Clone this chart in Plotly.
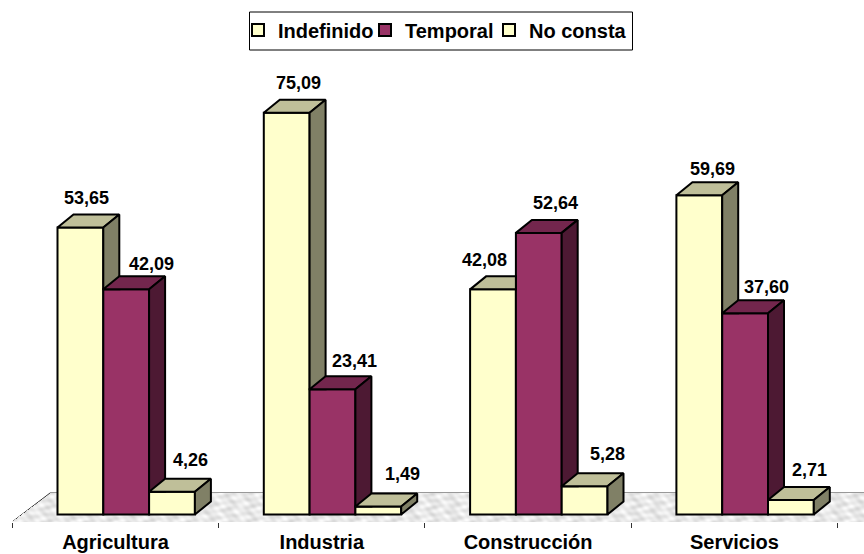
import base64
import math
import struct
import zlib

import plotly.graph_objects as go

categories = ["Agricultura", "Industria", "Construcción", "Servicios"]
indefinido = [53.65, 75.09, 42.08, 59.69]
temporal = [42.09, 23.41, 52.64, 37.60]
no_consta = [4.26, 1.49, 5.28, 2.71]
series_names = ["Indefinido", "Temporal", "No consta"]
series_values = [indefinido, temporal, no_consta]

# styles
FRONT = ["#FFFFCC", "#993366", "#FFFFCC"]
TOP = ["#BFBF99", "#73264D", "#BFBF99"]
SIDE = ["#808066", "#4D1933", "#808066"]
FONT = "Liberation Sans"

# layout scale (pixels of the 864x554 page)
W, H = 864, 554
PLOT_BOTTOM = 522
PX_PER_UNIT = 5.35
BASE_PX = 514.5
CAT_PX = 206.3
CAT0_PX = 115.5
GROUP_SHIFT = 10.7 / CAT_PX
BAR_W = 45.8 / CAT_PX
DX = 16 / CAT_PX
DY = 13 / PX_PER_UNIT
LEGEND_X_PX = [238, 365, 489]
LEGEND_IDS = ["legend", "legend2", "legend3"]


def px_x(p):
    return (p - CAT0_PX) / CAT_PX


def px_y(p):
    return (BASE_PX - p) / PX_PER_UNIT


def bar_left(cat, k):
    return cat + GROUP_SHIFT + (k - 1.5) * BAR_W


def floor_texture(w, h, slant):
    """Marble-like grey wall-paper for the floor, transparent outside the parallelogram."""
    rows = []
    for y in range(h):
        row = bytearray([0])
        inset = slant * (h - 1 - y) / max(h - 1, 1)
        for x in range(w):
            g = (233 + 9 * math.sin(0.31 * x + 1.4 * math.sin(0.45 * y))
                 + 6 * math.sin(0.13 * x + 0.9 * y)
                 + 5 * math.sin(0.73 * x - 0.6 * y))
            g = int(max(205, min(252, g)))
            row += bytes([g, g, g, 255 if x >= inset else 0])
        rows.append(bytes(row))

    def chunk(tag, data):
        return (struct.pack(">I", len(data)) + tag + data
                + struct.pack(">I", zlib.crc32(tag + data) & 0xFFFFFFFF))

    png = (b"\x89PNG\r\n\x1a\n"
           + chunk(b"IHDR", struct.pack(">IIBBBBB", w, h, 8, 6, 0, 0, 0))
           + chunk(b"IDAT", zlib.compress(b"".join(rows)))
           + chunk(b"IEND", b""))
    return "data:image/png;base64," + base64.b64encode(png).decode()


fig = go.Figure()

for k, name in enumerate(series_names):
    fig.add_trace(go.Bar(
        name=name,
        legend=LEGEND_IDS[k],
        showlegend=True,
        x=[bar_left(c, k) + BAR_W / 2 for c in range(len(categories))],
        y=series_values[k],
        width=BAR_W,
        marker=dict(color=FRONT[k], line=dict(color="#000000", width=2)),
        hoverinfo="skip",
    ))

for k in range(len(series_names)):
    top_x, top_y, side_x, side_y = [], [], [], []
    for c in range(len(categories)):
        v = series_values[k][c]
        l = bar_left(c, k)
        r = l + BAR_W
        nxt = series_values[k + 1][c] if k + 1 < len(series_values) else None
        # top face, hidden behind a taller neighbour
        back_r = r if (nxt is not None and nxt > v) else r + DX
        top_x += [l, l + DX, back_r, r, l, None]
        top_y += [v, v + DY, v + DY, v, v, None]
        # side face
        if nxt is None:
            side_x += [r, r + DX, r + DX, r, r, None]
            side_y += [v, v + DY, DY, 0, v, None]
        elif nxt < v:
            side_x += [r, r + DX, r + DX, r, r, None]
            side_y += [v, v + DY, nxt, nxt, v, None]
    for xs, ys, col in ((top_x, top_y, TOP[k]), (side_x, side_y, SIDE[k])):
        fig.add_trace(go.Scatter(
            x=xs, y=ys, mode="lines", fill="toself", fillcolor=col,
            line=dict(color="#000000", width=2),
            showlegend=False, hoverinfo="skip",
        ))

# data labels: hand-placed in the reference
label_dx = [[6, 12, -9, 13], [25, 22, 17, 21], [18, 24, 23, 19]]
label_dy = [[29, 30, 29, 26], [25, 28, 30, 26], [32, 33, 32, 30]]
annotations = []
for k in range(len(series_names)):
    for c, v in enumerate(series_values[k]):
        annotations.append(dict(
            x=bar_left(c, k) + BAR_W / 2, y=v, xref="x", yref="y",
            text=f"{v:.2f}".replace(".", ","), showarrow=False,
            xshift=label_dx[k][c], yshift=label_dy[k][c],
            font=dict(family=FONT, size=18, color="#000000", weight=700),
        ))

# floor and legend frame
floor_image = dict(
    source=floor_texture(858, 29, 38), layer="below", xref="x", yref="y",
    x=px_x(12), y=px_y(493), sizex=858 / CAT_PX, sizey=29 / PX_PER_UNIT,
    xanchor="left", yanchor="top", sizing="stretch",
)
floor = dict(
    type="path", layer="below", xref="x", yref="y",
    path=(f"M{px_x(12)},{px_y(522)} L{px_x(50)},{px_y(493)} L{px_x(870)},{px_y(493)} "
          f"L{px_x(837)},{px_y(522)} Z"),
    fillcolor="rgba(0,0,0,0)", line=dict(color="#333333", width=1),
)
frame = dict(
    type="rect", xref="paper", yref="paper",
    x0=249.5 / W, x1=632.5 / W, y0=1 - 50 / PLOT_BOTTOM, y1=1 - 12 / PLOT_BOTTOM,
    line=dict(color="#000000", width=1), fillcolor="rgba(0,0,0,0)",
)

legends = {
    lid: dict(
        orientation="v", x=lx / W, xanchor="left", y=1 - 30 / PLOT_BOTTOM, yanchor="middle",
        bgcolor="rgba(0,0,0,0)", borderwidth=0,
        font=dict(family=FONT, size=20, color="#000000", weight=700),
    )
    for lid, lx in zip(LEGEND_IDS, LEGEND_X_PX)
}

fig.update_layout(
    width=W, height=H,
    margin=dict(l=0, r=0, t=0, b=H - PLOT_BOTTOM, pad=0),
    autosize=False,
    barmode="overlay",
    paper_bgcolor="#FFFFFF", plot_bgcolor="#FFFFFF",
    font=dict(family=FONT, color="#000000"),
    annotations=annotations,
    images=[floor_image],
    shapes=[floor, frame],
    xaxis=dict(
        automargin=False,
        range=[px_x(0), px_x(W)], showgrid=False, zeroline=False, showline=False,
        tickmode="array", tickvals=list(range(len(categories))), ticktext=categories,
        ticks="", ticklabelstandoff=6,
        tickfont=dict(family=FONT, size=20, color="#000000", weight=700),
        minor=dict(tickmode="array", tickvals=[i - 0.5 for i in range(len(categories) + 1)],
                   ticks="outside", ticklen=5, tickcolor="#333333", tickwidth=1, showgrid=False),
    ),
    yaxis=dict(
        automargin=False,
        range=[px_y(PLOT_BOTTOM), px_y(0)], visible=False, showgrid=False, zeroline=False,
    ),
    **legends,
)

fig.write_html(
    "out.html",
    config=dict(displayModeBar=False),
    post_script="document.body.style.margin='0';document.documentElement.style.overflow='hidden';",
)
